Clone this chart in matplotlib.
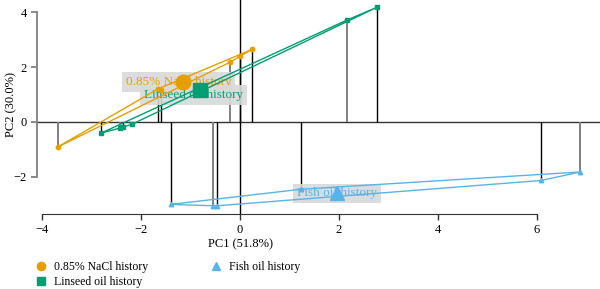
import numpy as np
import matplotlib
matplotlib.use('Agg')
import matplotlib.pyplot as plt
from matplotlib.lines import Line2D

# data (PC1, PC2 scores per sample)
#####################
groups = ['0.85% NaCl history', 'Linseed oil history', 'Fish oil history']
nacl_pc1 = [-3.68, -1.60, -1.66, -0.20, 0.00, 0.24]
nacl_pc2 = [-0.91, 1.16, 1.20, 2.18, 2.40, 2.64]
linseed_pc1 = [-2.80, -2.42, -2.36, -2.18, 2.16, 2.76]
linseed_pc2 = [-0.40, -0.22, -0.18, -0.08, 3.71, 4.17]
fish_pc1 = [-1.40, -0.55, -0.46, 6.08, 6.87, 1.23]
fish_pc2 = [-3.00, -3.05, -3.05, -2.13, -1.82, -2.45]
pc1_label = 'PC1 (51.8%)'
pc2_label = 'PC2 (30.0%)'

# styles
#####################
colors = ['#E69F00', '#009E73', '#56B4E9']
markers = ['o', 's', '^']
# drop line shade per sample (black or grey)
dropShades = [['#808080', 'black', 'black', '#808080', 'black', 'black'],
              ['black', '#808080', 'black', 'black', '#808080', 'black'],
              ['black', '#808080', 'black', 'black', '#808080', 'black']]
labelOffsets = [(-0.09, 0.0), (-0.13, -0.19), (0.0, -0.02)]


def convexHull(xs, ys):
    pts = sorted(set(zip(xs, ys)))
    def cross(o, a, b):
        return (a[0]-o[0])*(b[1]-o[1]) - (a[1]-o[1])*(b[0]-o[0])
    lower = []
    for p in pts:
        while len(lower) >= 2 and cross(lower[-2], lower[-1], p) <= 0:
            lower.pop()
        lower.append(p)
    upper = []
    for p in reversed(pts):
        while len(upper) >= 2 and cross(upper[-2], upper[-1], p) <= 0:
            upper.pop()
        upper.append(p)
    hull = lower[:-1] + upper[:-1]
    hull.append(hull[0])
    return np.array(hull)


plt.rcParams['font.family'] = ['Liberation Serif', 'DejaVu Serif']
fig = plt.figure(figsize=(6, 2.89), dpi=100)
ax = fig.add_axes([37/600, 1-214/289, 1-37/600, 214/289])

allX = [nacl_pc1, linseed_pc1, fish_pc1]
allY = [nacl_pc2, linseed_pc2, fish_pc2]

# reference lines
ax.axhline(0, color='#333333', lw=1.0, zorder=1)
ax.axvline(0, color='black', lw=1.0, zorder=1)

for g in range(len(groups)):
    xs = np.array(allX[g])
    ys = np.array(allY[g])
    # drop lines
    ax.vlines(xs, 0, ys, colors=dropShades[g],
              linewidths=[1.4 if c != 'black' else 1.0 for c in dropShades[g]], zorder=1.2)
    # hull outline
    hull = convexHull(xs, ys)
    ax.plot(hull[:, 0], hull[:, 1], color=colors[g], lw=1.0, zorder=2)
    ax.plot(xs, ys, linestyle='none', marker=markers[g], color=colors[g], ms=3.2, zorder=2.5)
    # centroid label and marker
    cx, cy = xs.mean(), ys.mean()
    ax.text(cx + labelOffsets[g][0], cy + labelOffsets[g][1], groups[g], color=colors[g],
            fontsize=9.5, ha='center', va='center', zorder=1.5,
            bbox=dict(facecolor='#d9d9d9', edgecolor='none', alpha=0.9, pad=2.8))
    ax.plot(cx, cy, linestyle='none', marker=markers[g], color=colors[g], ms=10.5, zorder=3)

ax.set_xlim(-4.10, 7.27)
ax.set_ylim(-3.35, 4.44)
ax.set_xticks([-4, -2, 0, 2, 4, 6])
ax.set_yticks([-2, 0, 2, 4])
ax.spines['top'].set_visible(False)
ax.spines['right'].set_visible(False)
ax.spines['left'].set_bounds(-2, 4)
ax.spines['bottom'].set_bounds(-4, 6)
ax.spines['left'].set_color('#808080')
ax.spines['left'].set_linewidth(1.3)
ax.spines['bottom'].set_color('#333333')
ax.tick_params(axis='y', colors='#808080', labelcolor='black', length=4, width=1.3, labelsize=9)
ax.tick_params(axis='x', colors='#333333', labelcolor='black', length=4, width=1.0, labelsize=9)
ax.set_xlabel(pc1_label, fontsize=9)
ax.set_ylabel(pc2_label, fontsize=9)
ax.xaxis.set_label_coords((240-37)/563, -0.115)
ax.yaxis.set_label_coords(-0.035, 0.51)
ax.patch.set_alpha(0)

legendHandles = [Line2D([], [], linestyle='none', marker=markers[g], color=colors[g], ms=6,
                        label=groups[g]) for g in range(len(groups))]
fig.legend(handles=legendHandles, loc='upper left', bbox_to_anchor=(29/600, 1-256/289), ncol=2,
           frameon=False, fontsize=8.5, handletextpad=0.5, columnspacing=5.2,
           labelspacing=0.3, borderaxespad=0, handlelength=1.2)

plt.savefig('out.png', dpi=100)
